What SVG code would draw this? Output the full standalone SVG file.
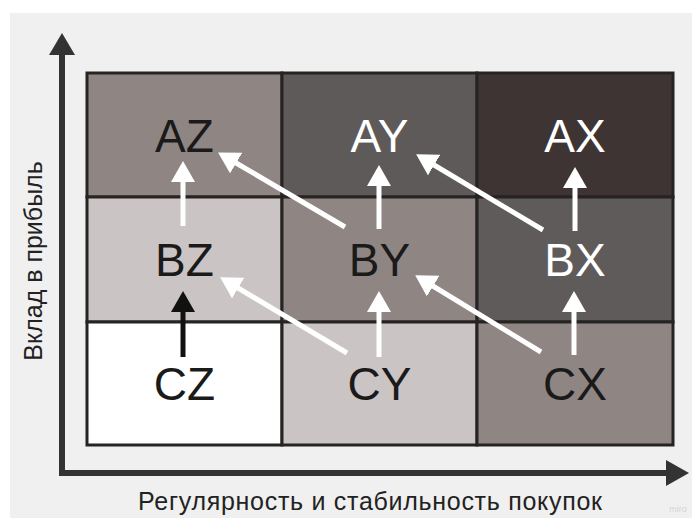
<svg xmlns="http://www.w3.org/2000/svg" width="692" height="518" viewBox="0 0 692 518">
<style>
.cell{stroke:#262323;stroke-width:3}
.lbl{font-family:"Liberation Sans",Arial,sans-serif;font-size:46px;text-anchor:middle}
.dk{fill:#1a1a1a}
.wt{fill:#ffffff}
.axis{stroke:#333333;stroke-width:6;fill:none}
.axt{font-family:"Liberation Sans",Arial,sans-serif;font-size:25px;fill:#222222;text-anchor:middle}
.aw{stroke:#ffffff;stroke-width:5;fill:none}
.ab{stroke:#111111;stroke-width:5;fill:none}
</style>
<defs>
<marker id="hw" viewBox="0 0 21 24" markerUnits="userSpaceOnUse" markerWidth="21" markerHeight="24" refX="6" refY="12" orient="auto"><path d="M0,0 L21,12 L0,24 z" fill="#ffffff"/></marker>
<marker id="hb" viewBox="0 0 21 24" markerUnits="userSpaceOnUse" markerWidth="21" markerHeight="24" refX="6" refY="12" orient="auto"><path d="M0,0 L21,12 L0,24 z" fill="#111111"/></marker>
</defs>
<rect x="0" y="0" width="692" height="518" fill="#ffffff"/>
<rect x="10" y="13" width="682" height="505" fill="#f0f0f0"/>
<g id="axes">
<line class="axis" x1="62" y1="476" x2="62" y2="52"/>
<polygon points="62,33 49,55 75,55" fill="#333333"/>
<line class="axis" x1="59" y1="473" x2="669" y2="473"/>
<polygon points="689,473 666,460 666,486" fill="#333333"/>
<text class="axt" transform="translate(42,261) rotate(-90)">Вклад в прибыль</text>
<text class="axt" x="370" y="510" textLength="464" lengthAdjust="spacing">Регулярность и стабильность покупок</text>
</g>
<g id="AZ"><rect class="cell" x="87" y="73" width="195" height="124" fill="#8f8684"/><text class="lbl dk" x="184.5" y="152">AZ</text></g>
<g id="AY"><rect class="cell" x="282" y="73" width="195" height="124" fill="#5f5a5a"/><text class="lbl wt" x="379.5" y="152">AY</text></g>
<g id="AX"><rect class="cell" x="477" y="73" width="196" height="124" fill="#3f3434"/><text class="lbl wt" x="575" y="152">AX</text></g>
<g id="BZ"><rect class="cell" x="87" y="197" width="195" height="125" fill="#cbc4c4"/><text class="lbl dk" x="184.5" y="276">BZ</text></g>
<g id="BY"><rect class="cell" x="282" y="197" width="195" height="125" fill="#8f8684"/><text class="lbl dk" x="379.5" y="276">BY</text></g>
<g id="BX"><rect class="cell" x="477" y="197" width="196" height="125" fill="#5f5b5a"/><text class="lbl wt" x="575" y="276">BX</text></g>
<g id="CZ"><rect class="cell" x="87" y="322" width="195" height="123" fill="#ffffff"/><text class="lbl dk" x="184.5" y="400">CZ</text></g>
<g id="CY"><rect class="cell" x="282" y="322" width="195" height="123" fill="#cbc4c4"/><text class="lbl dk" x="379.5" y="400">CY</text></g>
<g id="CX"><rect class="cell" x="477" y="322" width="196" height="123" fill="#8f8684"/><text class="lbl dk" x="575" y="400">CX</text></g>
<g id="connectors">
<line class="aw" x1="183" y1="226" x2="183" y2="176" marker-end="url(#hw)"/>
<line class="aw" x1="379" y1="229" x2="379" y2="180" marker-end="url(#hw)"/>
<line class="aw" x1="575" y1="231" x2="575" y2="182" marker-end="url(#hw)"/>
<line class="ab" x1="183" y1="357" x2="183" y2="306" marker-end="url(#hb)"/>
<line class="aw" x1="379" y1="357" x2="379" y2="306" marker-end="url(#hw)"/>
<line class="aw" x1="574" y1="355" x2="574" y2="306" marker-end="url(#hw)"/>
<line class="aw" x1="345" y1="227" x2="231" y2="160" marker-end="url(#hw)"/>
<line class="aw" x1="543" y1="230" x2="429" y2="162" marker-end="url(#hw)"/>
<line class="aw" x1="347" y1="353" x2="233" y2="285" marker-end="url(#hw)"/>
<line class="aw" x1="541" y1="352" x2="428" y2="283" marker-end="url(#hw)"/>
</g>
<text x="678" y="512" font-family="'Liberation Sans',Arial,sans-serif" font-size="9" fill="#d4d4d4" text-anchor="middle">miro</text>
</svg>
